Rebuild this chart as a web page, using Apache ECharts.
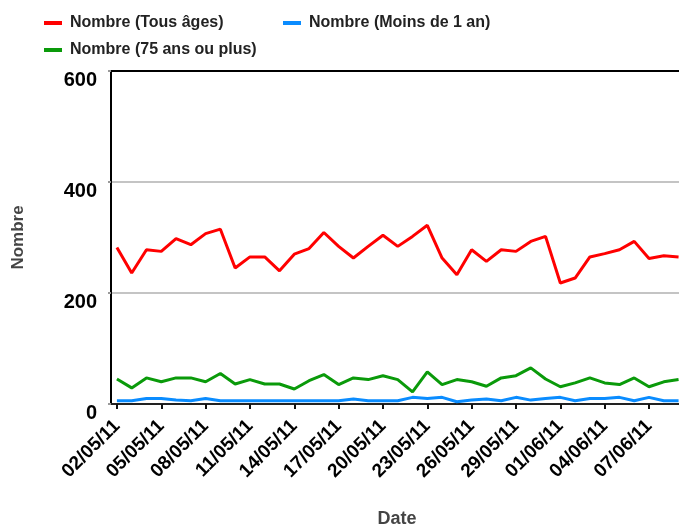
<!DOCTYPE html>
<html>
<head lang="fr">
    <meta charset="UTF-8">
    <title>Nombre</title>
</head>
<body style="margin:0;background:#fff">
<div id="container" style="height:527px;width:679px"></div>
<script type="text/javascript" src="https://cdn.jsdelivr.net/npm/echarts@6/dist/echarts.min.js"></script>
<script type="text/javascript">
    // dates (jour par jour)
    var dates = ['02/05/11','03/05/11','04/05/11','05/05/11','06/05/11','07/05/11','08/05/11','09/05/11','10/05/11','11/05/11',
        '12/05/11','13/05/11','14/05/11','15/05/11','16/05/11','17/05/11','18/05/11','19/05/11','20/05/11','21/05/11',
        '22/05/11','23/05/11','24/05/11','25/05/11','26/05/11','27/05/11','28/05/11','29/05/11','30/05/11','31/05/11',
        '01/06/11','02/06/11','03/06/11','04/06/11','05/06/11','06/06/11','07/06/11','08/06/11','09/06/11'];
    var tousAges = [282,236,278,275,298,287,307,315,245,265,265,240,270,
        280,309,284,263,284,304,284,302,322,263,233,278,257,
        278,275,293,302,218,227,265,271,278,293,262,267,265];
    var moinsDe1 = [6,6,10,10,7,6,10,6,6,6,6,6,6,
        6,6,6,9,6,6,6,12,10,12,4,7,9,
        6,12,7,10,12,6,10,10,12,6,12,6,6];
    var plus75 = [45,29,47,40,47,47,40,55,36,44,36,36,27,
        42,53,35,47,44,51,44,22,58,35,44,40,32,
        47,51,65,45,31,38,47,38,35,47,31,40,44];
    var tickDays = [0,3,6,9,12,15,18,21,24,27,30,33,36];
    var yTicks = [0,200,400,600];

    var names = ['Nombre (Tous âges)', 'Nombre (Moins de 1 an)', 'Nombre (75 ans ou plus)'];
    var colors = ['#ff0000', '#0a8cff', '#0a9a0a'];

    function pairs(arr) {
        return arr.map(function (v, i) { return [i, v]; });
    }

    var font = 'Liberation Sans, Arial, sans-serif';
    function legendAt(name, left, top) {
        return {
            data: [name], left: left, top: top,
            icon: 'rect', itemWidth: 18, itemHeight: 4,
            textStyle: {fontFamily: font, fontWeight: 'bold', fontSize: 16, color: '#222', padding: [0, 0, 0, 3]}
        };
    }

    var myChart = echarts.init(document.getElementById('container'));
    var option = {
        animation: false,
        color: colors,
        legend: [
            legendAt(names[0], 39, 10),
            legendAt(names[1], 278, 10),
            legendAt(names[2], 39, 37)
        ],
        grid: {left: 111, top: 71, right: -4, bottom: 123, outerBoundsMode: 'none',
            show: true, borderColor: '#000', borderWidth: 2},
        xAxis: {
            type: 'value',
            min: -0.4,
            max: 38.3,
            name: 'Date',
            nameLocation: 'middle',
            nameGap: 106,
            nameTextStyle: {fontFamily: font, fontWeight: 'bold', fontSize: 18, color: '#444'},
            axisLine: {onZero: false, lineStyle: {color: '#222', width: 2}},
            axisTick: {customValues: tickDays, length: 5, lineStyle: {color: '#111', width: 2}},
            axisLabel: {
                customValues: tickDays,
                rotate: 45,
                margin: 19,
                fontFamily: font, fontWeight: 'bold', fontSize: 19, color: '#000',
                formatter: function (v) { return dates[Math.round(v)]; }
            },
            splitLine: {show: false}
        },
        yAxis: {
            type: 'value',
            min: 0,
            max: 600,
            interval: 200,
            name: 'Nombre',
            nameLocation: 'middle',
            nameGap: 84,
            nameTextStyle: {fontFamily: font, fontWeight: 'bold', fontSize: 17, color: '#444'},
            axisLine: {show: true, onZero: false, lineStyle: {color: '#000', width: 2}},
            axisTick: {show: true, length: 3, lineStyle: {color: '#999', width: 2}},
            axisLabel: {margin: 14, fontFamily: font, fontWeight: 'bold', fontSize: 20, color: '#000',
                verticalAlign: 'top', padding: [-1, 0, 0, 0], customValues: yTicks},
            splitLine: {showMinLine: false, showMaxLine: false, lineStyle: {color: '#c4c4c4', width: 2}}
        },
        series: [
            {name: names[0], type: 'line', data: pairs(tousAges), symbol: 'none', lineStyle: {width: 3}},
            {name: names[1], type: 'line', data: pairs(moinsDe1), symbol: 'none', lineStyle: {width: 3}},
            {name: names[2], type: 'line', data: pairs(plus75), symbol: 'none', lineStyle: {width: 3}}
        ]
    };
    myChart.setOption(option);
</script>
</body>
</html>
